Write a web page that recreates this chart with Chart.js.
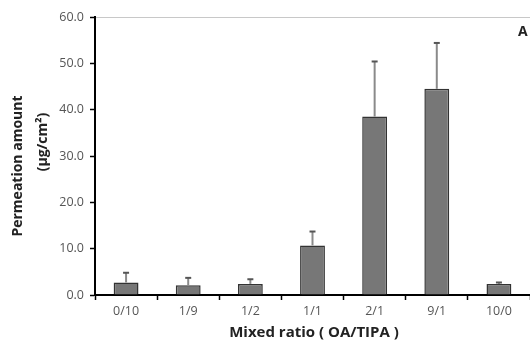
<!DOCTYPE html>
<html>
<head>
<meta charset="utf-8">
<script src="https://cdn.jsdelivr.net/npm/chart.js@4/dist/chart.umd.min.js"></script>
<style>
html,body{margin:0;padding:0;background:#fff;}
#wrap{position:relative;width:530px;height:347px;}
</style>
</head>
<body>
<div id="wrap"><canvas id="c" width="530" height="347"></canvas></div>
<script>
const categories = ["0/10", "1/9", "1/2", "1/1", "2/1", "9/1", "10/0"];
const permeation = [2.7, 2.1, 2.4, 10.7, 38.5, 44.5, 2.4];
const errors = [2.1, 1.6, 1.0, 3.0, 11.9, 9.9, 0.3];
const yTicks = [0, 10, 20, 30, 40, 50, 60];

const errorBars = {
  id: 'errorBars',
  afterDatasetsDraw(chart) {
    const ctx = chart.ctx;
    const meta = chart.getDatasetMeta(0);
    const ys = chart.scales.y;
    ctx.save();
    meta.data.forEach((bar, i) => {
      const yTop = ys.getPixelForValue(permeation[i] + errors[i]);
      const yBase = ys.getPixelForValue(permeation[i]);
      ctx.strokeStyle = '#8a8a8a';
      ctx.lineWidth = 2;
      ctx.beginPath();
      ctx.moveTo(bar.x, yBase);
      ctx.lineTo(bar.x, yTop);
      ctx.stroke();
      ctx.strokeStyle = '#555';
      ctx.beginPath();
      ctx.moveTo(bar.x - 3, yTop);
      ctx.lineTo(bar.x + 3, yTop);
      ctx.stroke();
    });
    ctx.restore();
  }
};

const titles = {
  id: 'titles',
  afterDraw(chart) {
    const ctx = chart.ctx;
    ctx.save();
    ctx.fillStyle = '#222';
    ctx.font = 'bold 15px "Open Sans"';
    ctx.textAlign = 'center';
    ctx.textBaseline = 'middle';
    ctx.fillText('Mixed ratio ( OA/TIPA )', 314, 333);
    ctx.save();
    ctx.translate(18, 166);
    ctx.rotate(-Math.PI / 2);
    ctx.font = 'bold 14px "Open Sans"';
    ctx.fillText('Permeation amount', 0, 0);
    ctx.restore();
    ctx.save();
    ctx.translate(43, 142);
    ctx.rotate(-Math.PI / 2);
    ctx.font = 'bold 14px "Open Sans"';
    ctx.fillText('(\u03bcg/cm\u00b2)', 0, 0);
    ctx.restore();
    ctx.font = 'bold 14px "Open Sans"';
    ctx.textAlign = 'left';
    ctx.fillText('A', 518, 32);
    ctx.restore();
  }
};

new Chart(document.getElementById('c'), {
  type: 'bar',
  data: {
    labels: categories,
    datasets: [{
      data: permeation,
      backgroundColor: '#777777',
      borderColor: '#333',
      borderWidth: 1.5,
      borderSkipped: 'bottom',
      barPercentage: 0.8,
      categoryPercentage: 0.5
    }]
  },
  options: {
    responsive: false,
    animation: false,
    devicePixelRatio: 1,
    layout: { padding: { top: 17, right: -5, left: 0, bottom: 0 } },
    plugins: { legend: { display: false }, tooltip: { enabled: false } },
    scales: {
      x: {
        offset: true,
        grid: { offset: true, drawOnChartArea: false, tickLength: 5, tickColor: '#000', tickWidth: 1.5 },
        border: { color: '#000', width: 2 },
        ticks: { color: '#555', font: { family: 'Open Sans', size: 12.5 }, padding: 4, maxRotation: 0 },
        afterFit(s) { s.height = 52; }
      },
      y: {
        min: 0, max: 60,
        afterBuildTicks(s) { s.ticks = yTicks.map(v => ({ value: v })); },
        grid: {
          drawOnChartArea: true,
          color: (c) => (c.tick && c.tick.value === 60) ? '#c8c8c8' : 'rgba(0,0,0,0)',
          lineWidth: 1,
          tickLength: 5,
          tickColor: '#000',
          tickWidth: 1.5
        },
        border: { color: '#000', width: 2 },
        ticks: {
          color: '#555',
          font: { family: 'Open Sans', size: 12.5 },
          padding: 6,
          callback: (v) => Number(v).toFixed(1)
        },
        afterFit(s) { s.width = 95; }
      }
    }
  },
  plugins: [errorBars, titles]
});
</script>
</body>
</html>
